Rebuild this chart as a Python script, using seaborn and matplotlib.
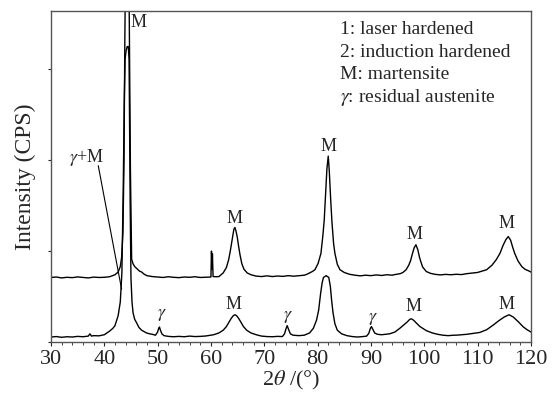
#!/usr/bin/env python3
"""XRD patterns of laser and induction hardened layers."""

import numpy as np
import pandas as pd
import matplotlib
matplotlib.use("Agg")
import matplotlib.pyplot as plt
from matplotlib.ticker import MultipleLocator
import seaborn as sns

# curve 1: laser hardened (2theta, intensity)
laser_pts = [
    (30, 0.710), (31, 0.715), (32, 0.705), (33, 0.712), (34, 0.708), (35, 0.716),
    (36, 0.710), (37, 0.705), (38, 0.714), (39, 0.710), (40, 0.712), (41, 0.718),
    (42, 0.740), (42.6, 0.770), (43.0, 0.830), (43.25, 0.930), (43.5, 1.21),
    (43.7, 2.0), (43.85, 3.3), (44.0, 4.2), (44.3, 5.2), (44.6, 4.2), (44.75, 3.1),
    (44.9, 1.9), (45.05, 1.2), (45.13, 0.91), (45.4, 0.86), (45.7, 0.83),
    (46.07, 0.81), (46.6, 0.78), (47.0, 0.77), (47.5, 0.745), (48, 0.730),
    (49, 0.720), (50, 0.715), (51, 0.710), (52, 0.718), (53, 0.712), (54, 0.708),
    (55, 0.715), (56, 0.712), (57, 0.718), (58, 0.710), (59, 0.712), (60.0, 0.715),
    (60.1, 1.0), (60.2, 0.80), (60.28, 0.97), (60.4, 0.72), (61.0, 0.718),
    (61.5, 0.720), (62.3, 0.760), (62.9, 0.820), (63.3, 0.900), (63.6, 0.990),
    (63.9, 1.10), (64.1, 1.18), (64.3, 1.24), (64.5, 1.26), (64.7, 1.22),
    (64.95, 1.15), (65.2, 1.05), (65.45, 0.96), (65.8, 0.86), (66.2, 0.80),
    (66.8, 0.76), (67.5, 0.74), (68.5, 0.725), (69.5, 0.720), (70.5, 0.728),
    (71.5, 0.720), (72.5, 0.726), (73.5, 0.722), (74.5, 0.730), (75.5, 0.724),
    (76.5, 0.730), (77.5, 0.735), (78.0, 0.745), (79.0, 0.775), (79.5, 0.795),
    (80.1, 0.865), (80.63, 0.975), (81.0, 1.175), (81.25, 1.345), (81.5, 1.625),
    (81.75, 1.905), (82.0, 2.045), (82.2, 1.875), (82.45, 1.575), (82.69, 1.325),
    (83.0, 1.085), (83.25, 0.975), (83.7, 0.855), (84.2, 0.795), (85.0, 0.765),
    (86.0, 0.745), (87, 0.735), (88, 0.728), (89, 0.735), (90, 0.730), (91, 0.738),
    (92, 0.732), (93, 0.740), (94, 0.735), (94.5, 0.742), (95.5, 0.752),
    (96.0, 0.765), (96.6, 0.795), (97.1, 0.845), (97.44, 0.895), (97.8, 0.975),
    (98.1, 1.035), (98.44, 1.07), (98.8, 1.015), (99.1, 0.935), (99.3, 0.895),
    (99.7, 0.825), (100.4, 0.775), (101.2, 0.755), (102, 0.745), (103, 0.738),
    (104, 0.744), (105, 0.740), (106, 0.745), (107, 0.742), (108, 0.752),
    (110, 0.765), (111.7, 0.795), (112.7, 0.845), (113.5, 0.905), (114.2, 0.975),
    (114.8, 1.065), (115.3, 1.125), (115.75, 1.16), (116.2, 1.12), (116.6, 1.04),
    (117.0, 0.97), (117.6, 0.89), (118.3, 0.83), (118.9, 0.80), (119.5, 0.785),
    (120, 0.770),
]

# curve 2: induction hardened
induction_pts = [
    (30, 0.055), (31, 0.060), (32, 0.052), (33, 0.058), (34, 0.055), (35, 0.062),
    (36, 0.058), (37, 0.065), (37.3, 0.090), (37.6, 0.065), (38, 0.070),
    (39, 0.068), (40, 0.080), (41, 0.120), (41.6, 0.150), (42.0, 0.180),
    (42.6, 0.290), (43.0, 0.440), (43.3, 0.760), (43.55, 1.66), (43.75, 2.66),
    (43.9, 3.11), (44.1, 3.21), (44.3, 3.25), (44.5, 3.25), (44.65, 3.11),
    (44.75, 2.36), (44.85, 1.56), (45.0, 0.71), (45.2, 0.44), (45.4, 0.32),
    (45.7, 0.25), (46.07, 0.21), (46.5, 0.16), (47.0, 0.13), (47.9, 0.10),
    (48.5, 0.090), (49.0, 0.085), (49.6, 0.075), (50.0, 0.110), (50.2, 0.150),
    (50.35, 0.165), (50.5, 0.135), (50.8, 0.090), (51.2, 0.070), (52, 0.062),
    (53, 0.058), (54, 0.062), (55, 0.058), (56, 0.065), (57, 0.060), (58, 0.062),
    (59, 0.066), (60.5, 0.080), (61.5, 0.100), (62.3, 0.130), (62.9, 0.170),
    (63.4, 0.220), (63.8, 0.260), (64.2, 0.290), (64.5, 0.300), (64.8, 0.290),
    (65.2, 0.260), (65.6, 0.220), (66.1, 0.170), (66.7, 0.130), (67.5, 0.100),
    (68.5, 0.080), (69.5, 0.065), (70.5, 0.060), (71.5, 0.058), (72.5, 0.062),
    (73.4, 0.060), (73.8, 0.090), (74.1, 0.150), (74.3, 0.180), (74.55, 0.140),
    (74.9, 0.090), (75.4, 0.075), (76.5, 0.070), (77.5, 0.075), (78.5, 0.100),
    (79.2, 0.150), (79.8, 0.240), (80.2, 0.350), (80.56, 0.530), (80.85, 0.650),
    (81.1, 0.710), (81.6, 0.730), (82.1, 0.710), (82.4, 0.610), (82.63, 0.460),
    (82.9, 0.320), (83.25, 0.200), (83.7, 0.130), (84.5, 0.090), (85.5, 0.070),
    (86.5, 0.060), (87.5, 0.055), (88.5, 0.060), (89.2, 0.065), (89.6, 0.095),
    (89.9, 0.150), (90.1, 0.170), (90.35, 0.140), (90.7, 0.100), (91.2, 0.085),
    (92.0, 0.080), (93.5, 0.090), (94.5, 0.110), (95.4, 0.150), (96.2, 0.190),
    (96.8, 0.220), (97.3, 0.250), (97.6, 0.255), (98.0, 0.240), (98.5, 0.210),
    (99.2, 0.170), (100.4, 0.125), (101.5, 0.100), (102.5, 0.085), (103.5, 0.075),
    (104.5, 0.070), (105.5, 0.075), (106, 0.075), (108, 0.085), (110.4, 0.105),
    (111.7, 0.135), (112.9, 0.185), (114.0, 0.235), (115.0, 0.275), (115.9, 0.300),
    (116.7, 0.275), (117.6, 0.225), (118.6, 0.165), (119.3, 0.135), (120, 0.110),
]

# peak annotations: (2theta, intensity, text)
peak_labels = [
    (64.5, 1.36, "M"), (82.0, 2.15, "M"), (98.25, 1.18, "M"), (115.45, 1.30, "M"),
    (50.75, 0.30, r"$\gamma$"), (64.2, 0.41, "M"), (74.5, 0.28, r"$\gamma$"),
    (97.9, 0.39, "M"), (90.4, 0.26, r"$\gamma$"), (115.45, 0.41, "M"),
]
legend_lines = ["1: laser hardened", "2: induction hardened", "M: martensite",
                r"$\gamma$: residual austenite"]

rows = []
for name, pts in [("laser", laser_pts), ("induction", induction_pts)]:
    for tt, inten in pts:
        rows.append({"two_theta": tt, "intensity": inten, "sample": name})
df = pd.DataFrame(rows)

sns.set_style("ticks")
plt.rcParams["font.family"] = ["Liberation Serif", "DejaVu Serif"]
plt.rcParams["mathtext.fontset"] = "stix"

fig = plt.figure(figsize=(5.6, 3.97), dpi=100)
ax = fig.add_axes([0.091, 0.1385, 0.857, 0.8335])

sns.lineplot(data=df, x="two_theta", y="intensity", hue="sample",
             palette=["black", "black"], estimator=None, sort=False,
             legend=False, linewidth=1.0, ax=ax)

ax.set_xlim(30, 120)
ax.set_ylim(0, 3.64)
ax.xaxis.set_major_locator(MultipleLocator(10))
ax.xaxis.set_minor_locator(MultipleLocator(2))
ax.yaxis.set_major_locator(MultipleLocator(1))
ax.set_yticklabels([])
ax.tick_params(axis="x", which="major", length=3, width=0.8, labelsize=16, pad=3)
ax.tick_params(axis="x", which="minor", length=2, width=0.6)
ax.tick_params(axis="y", length=2, width=0.8)
for sp in ax.spines.values():
    sp.set_color("#555555")
    sp.set_linewidth(1.0)

ax.set_xlabel(r"2$\theta$ /(°)", fontsize=16, labelpad=0)
ax.set_ylabel("Intensity (CPS)", fontsize=17, labelpad=5)

for tt, inten, txt in peak_labels:
    ax.text(tt, inten, txt, ha="center", va="center", fontsize=13)

# labels at the strong peak near 44 degrees
ax.text(45.0, 3.52, "M", ha="left", va="center", fontsize=13)
ax.text(36.6, 2.03, r"$\gamma$+M", ha="center", va="center", fontsize=13)
ax.plot([38.87, 43.25], [1.94, 0.58], color="black", linewidth=0.8)

for i, line in enumerate(legend_lines):
    ax.text(0.602, 0.945 - i * 0.069, line, transform=ax.transAxes,
            ha="left", va="center", fontsize=14)

fig.savefig("out.png", dpi=100)
